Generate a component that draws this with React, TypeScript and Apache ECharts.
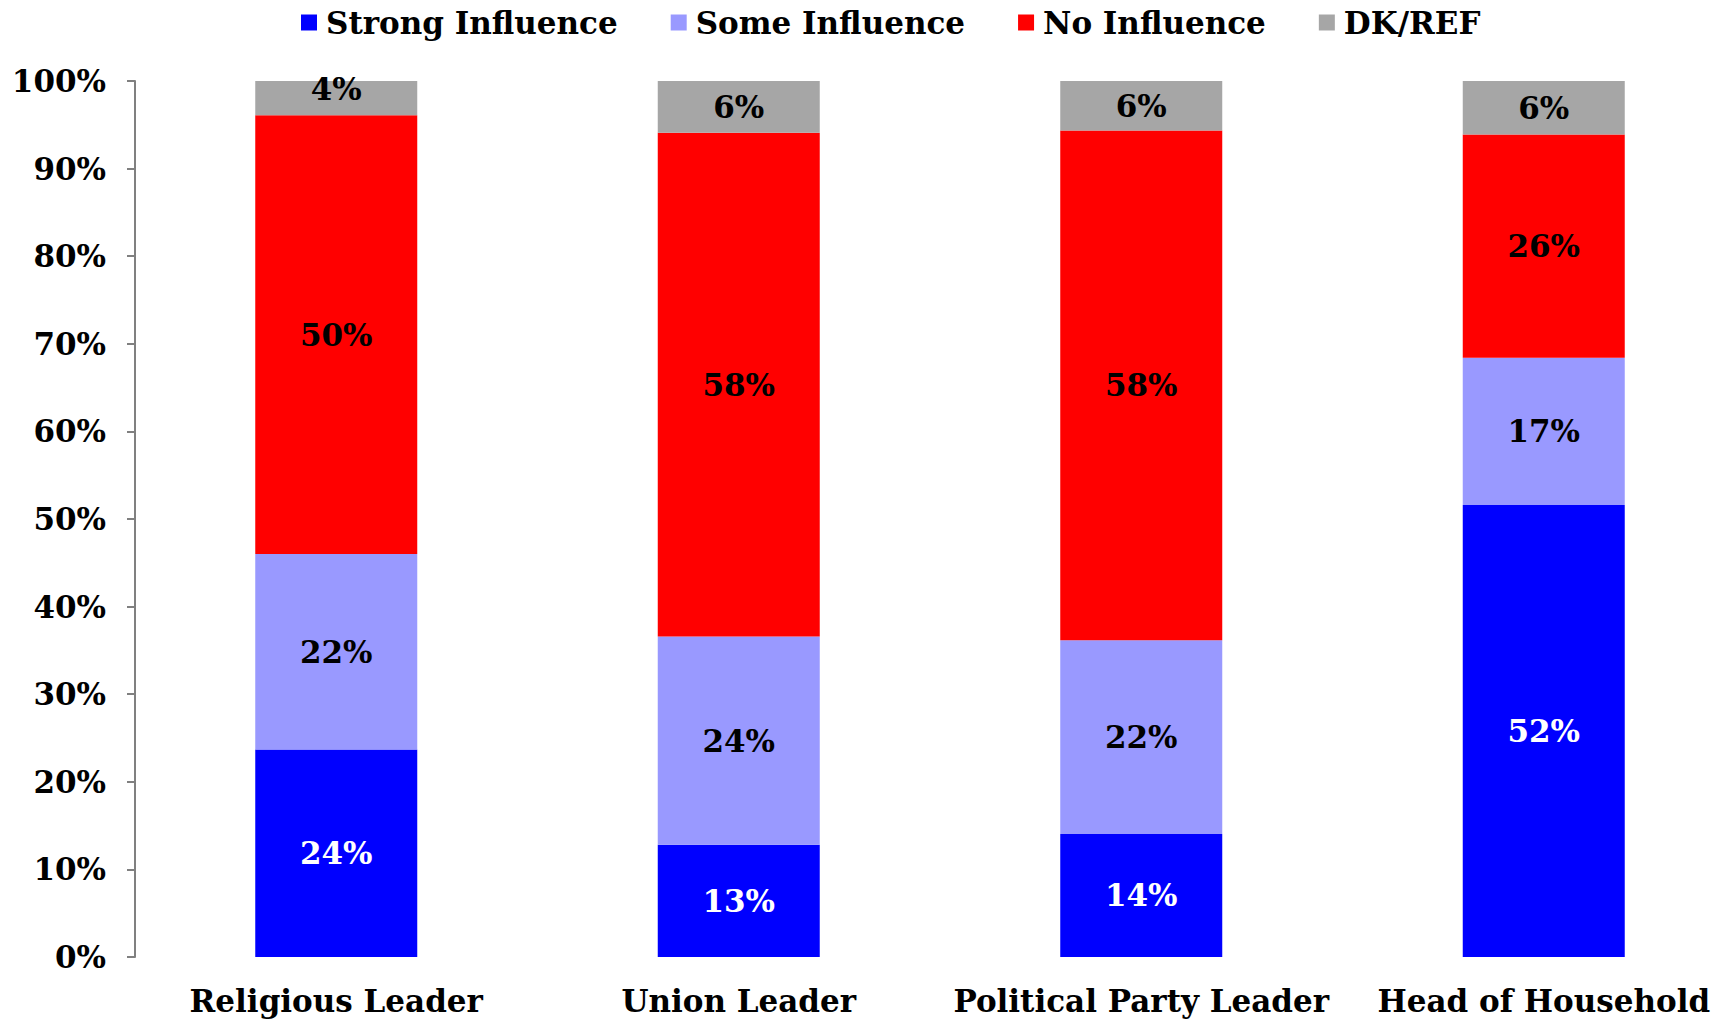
import React, { useEffect, useRef } from "react";
import * as echarts from "echarts";

const categories = ["Religious Leader", "Union Leader", "Political Party Leader", "Head of Household"];
const seriesNames = ["Strong Influence", "Some Influence", "No Influence", "DK/REF"];
const strongInfluence = [23.7, 12.8, 14.05, 51.6];
const someInfluence = [22.3, 23.8, 22.1, 16.8];
const noInfluence = [50.1, 57.5, 58.2, 25.5];
const dkRef = [3.9, 5.9, 5.65, 6.15];
const yTicks = [0, 10, 20, 30, 40, 50, 60, 70, 80, 90, 100];

const colors = ["#0000FF", "#9999FF", "#FF0000", "#A6A6A6"];
const labelColors = ["#FFFFFF", "#000000", "#000000", "#000000"];
const FONT = "DejaVu Serif";
const FS = 31;

export default function App() {
  const ref = useRef<HTMLDivElement>(null);
  useEffect(() => {
    if (!ref.current) return;
    const chart = echarts.init(ref.current, undefined, { renderer: "svg" });
    const values = [strongInfluence, someInfluence, noInfluence, dkRef];
    chart.setOption({
      animation: false,
      backgroundColor: "#FFFFFF",
      textStyle: { fontFamily: FONT, fontWeight: "bold" },
      legend: {
        top: 2,
        left: 296,
        itemWidth: 16,
        itemHeight: 16,
        itemGap: 53,
        icon: "rect",
        data: seriesNames,
        textStyle: { fontFamily: FONT, fontWeight: "bold", fontSize: FS, color: "#000", padding: [0, 0, 0, 4] },
      },
      grid: { left: 135, top: 81, bottom: 63, width: 1610, containLabel: false, outerBoundsMode: "none" },
      xAxis: {
        type: "category",
        data: categories,
        axisLine: { show: false },
        axisTick: { show: false },
        axisLabel: { margin: 28, fontFamily: FONT, fontWeight: "bold", fontSize: FS, color: "#000", interval: 0 },
      },
      yAxis: {
        type: "value",
        min: 0,
        max: 100,
        interval: 10,
        axisLine: { show: true, lineStyle: { color: "#808080", width: 2 } },
        axisTick: { show: true, length: 8, lineStyle: { color: "#808080", width: 2 } },
        splitLine: { show: false },
        axisLabel: {
          margin: 29,
          fontFamily: FONT,
          fontWeight: "bold",
          fontSize: FS,
          color: "#000",
          formatter: (v: number) => (yTicks.includes(v) ? v + "%" : ""),
        },
      },
      series: seriesNames.map((name, i) => ({
        name,
        type: "bar",
        stack: "total",
        barWidth: 162,
        data: values[i].map((v, j) =>
          i === 3 && v < 5 ? { value: v, label: { offset: [0, -9] } } : v
        ),
        itemStyle: { color: colors[i] },
        label: {
          show: true,
          position: "inside",
          color: labelColors[i],
          fontFamily: FONT,
          fontWeight: "bold",
          fontSize: FS,
          formatter: (p: any) => Math.round(p.value) + "%",
        },
      })),
    });
    return () => chart.dispose();
  }, []);
  return <div ref={ref} style={{ position: "absolute", left: 0, top: 0, width: 1724, height: 1020 }} />;
}
